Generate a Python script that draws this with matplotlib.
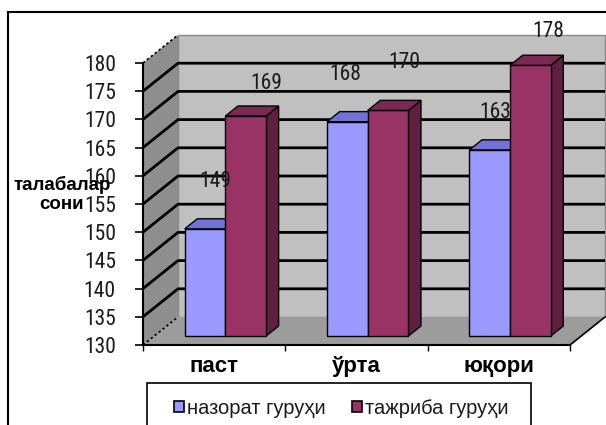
import matplotlib
matplotlib.use('Agg')
import matplotlib.pyplot as plt
from matplotlib.patches import Polygon, Rectangle, Patch

# ---------------- data ----------------
categories = ['паст', 'ўрта', 'юқори']
series_names = ['назорат гуруҳи', 'тажриба гуруҳи']
control = [149, 168, 163]
experiment = [169, 170, 178]
y_ticks = [130, 135, 140, 145, 150, 155, 160, 165, 170, 175, 180]
y_label = 'талабалар\nсони'

# ---------------- style ----------------
W, H = 606, 425
NARROW = ['Roboto Condensed', 'Liberation Sans', 'DejaVu Sans']
ARIAL = ['Liberation Sans', 'DejaVu Sans']
front_cols = ['#9999FF', '#993366']
top_cols = ['#7272D6', '#7A2952']
side_cols = ['#5C5CB0', '#5E1F40']
back_wall = '#C0C0C0'
side_wall = '#8E8E8E'
floor_col = '#9C9C9C'
depth_px = (35, 28)          # 3-D depth offset of the back wall, pixels
bar_depth = (0.32, 0.68)     # bar front/back as fraction of depth
gap_width = 1.5              # Excel gap width (times bar width)
# per-label nudges in pixels (dx, dy above bar top)
label_nudge = [[(10, 47), (-2, 47), (5, 37)],
               [(21, 33), (16, 48), (18, 34)]]

fig = plt.figure(figsize=(W / 100, H / 100), dpi=100)
ax = fig.add_axes([143 / W, (H - 345) / H, (570 - 143) / W, (345 - 63) / H])
ncat = len(categories)
ymin, ymax = y_ticks[0], y_ticks[-1]
ax.set_xlim(0, ncat)
ax.set_ylim(ymin, ymax)
ax.patch.set_visible(False)

ax_w = (570 - 143)
ax_h = (345 - 63)
DX = depth_px[0] * ncat / ax_w
DY = depth_px[1] * (ymax - ymin) / ax_h

def poly(pts, fc, ec='none', lw=0, z=1, ls='-'):
    p = Polygon(pts, closed=True, facecolor=fc, edgecolor=ec, linewidth=lw,
                zorder=z, clip_on=False, linestyle=ls, joinstyle='miter')
    ax.add_patch(p)

# walls
poly([(0, ymin), (0, ymax), (DX, ymax + DY), (DX, ymin + DY)], side_wall, z=0.2)
poly([(DX, ymin + DY), (DX, ymax + DY), (ncat + DX, ymax + DY), (ncat + DX, ymin + DY)],
     back_wall, ec='#8A8A8A', lw=1.0, z=0.3)
poly([(0, ymin), (ncat, ymin), (ncat + DX, ymin + DY), (DX, ymin + DY)], floor_col, z=0.4)

# gridlines on walls
for v in y_ticks[1:-1]:
    ax.plot([0, DX, ncat + DX], [v, v + DY, v + DY], color='black', lw=2.0,
            clip_on=False, zorder=0.5, solid_capstyle='butt')
# dotted edges of side wall
for v in (ymin, ymax):
    ax.plot([0, DX], [v, v + DY], color='black', lw=1.2, ls=(0, (1.5, 1.5)),
            clip_on=False, zorder=0.6)
# right floor edge
ax.plot([ncat, ncat + DX], [ymin, ymin + DY], color='black', lw=1.2,
        clip_on=False, zorder=0.6)

# bars
w = 1.0 / (2 + gap_width)
f0, f1 = bar_depth
series = [control, experiment]
for i in range(ncat):
    for j, vals in enumerate(series):
        v = vals[i]
        x0 = i + gap_width * w / 2 + j * w
        z = 3 + i * 2 + j
        # front
        poly([(x0 + f0 * DX, ymin + f0 * DY), (x0 + w + f0 * DX, ymin + f0 * DY),
              (x0 + w + f0 * DX, v + f0 * DY), (x0 + f0 * DX, v + f0 * DY)],
             front_cols[j], ec='black', lw=1.0, z=z)
        # top
        poly([(x0 + f0 * DX, v + f0 * DY), (x0 + w + f0 * DX, v + f0 * DY),
              (x0 + w + f1 * DX, v + f1 * DY), (x0 + f1 * DX, v + f1 * DY)],
             top_cols[j], ec='black', lw=1.0, z=z)
        # side
        poly([(x0 + w + f0 * DX, ymin + f0 * DY), (x0 + w + f1 * DX, ymin + f1 * DY),
              (x0 + w + f1 * DX, v + f1 * DY), (x0 + w + f0 * DX, v + f0 * DY)],
             side_cols[j], ec='black', lw=1.0, z=z - 0.1)
        # data label
        ndx, ndy = label_nudge[j][i]
        cx = x0 + w / 2 + f0 * DX + ndx * ncat / ax_w
        cy = v + f0 * DY + ndy * (ymax - ymin) / ax_h
        ax.text(cx, cy, str(v), ha='center', va='center', fontsize=15.5,
                family=NARROW, color='#1a1a1a', zorder=20, clip_on=False)

# spines / axes
for s in ('top', 'right'):
    ax.spines[s].set_visible(False)
ax.spines['left'].set_linewidth(1.5)
ax.spines['bottom'].set_linewidth(1.5)
ax.spines['left'].set_zorder(10)
ax.spines['bottom'].set_zorder(10)
ax.set_yticks(y_ticks)
ax.set_yticklabels([str(t) for t in y_ticks], family=NARROW, fontsize=15.5,
                   color='#1a1a1a')
ax.tick_params(axis='y', direction='out', length=6, width=1.2, pad=13.5)
ax.set_xticks([i + 0.5 for i in range(ncat)])
ax.set_xticklabels(categories, family=ARIAL, fontsize=16, fontweight='bold')
ax.set_xticks(range(ncat + 1), minor=True)
ax.tick_params(axis='x', which='major', length=0, pad=8)
ax.tick_params(axis='x', which='minor', length=4, width=1.0, direction='out')

# y label
fig.text(62 / W, (H - 194) / H, y_label, ha='center', va='center',
         multialignment='center', family=ARIAL, fontweight='bold', fontsize=13.5,
         linespacing=1.15)

# legend
handles = [Patch(facecolor=c, edgecolor='black', linewidth=1.2) for c in front_cols]
leg = fig.legend(handles, series_names, loc='center', ncol=2,
                 bbox_to_anchor=(341 / W, (H - 408) / H), frameon=False,
                 prop={'family': ARIAL, 'size': 14.5}, handlelength=0.5,
                 handleheight=0.5, handletextpad=0.15, columnspacing=1.3,
                 borderpad=0)
for t in leg.get_texts():
    t.set_color('#1a1a1a')
fig.add_artist(Rectangle((147 / W, -0.2), (531 - 147) / W, (H - 383) / H + 0.2,
                         transform=fig.transFigure, fill=False, edgecolor='black',
                         linewidth=1.2, clip_on=False))
# outer chart border
fig.add_artist(Rectangle((8 / W, -0.2), 1.2, (H - 12) / H + 0.2,
                         transform=fig.transFigure, fill=False, edgecolor='black',
                         linewidth=1.5, clip_on=False))

fig.savefig('out.png', dpi=100)
